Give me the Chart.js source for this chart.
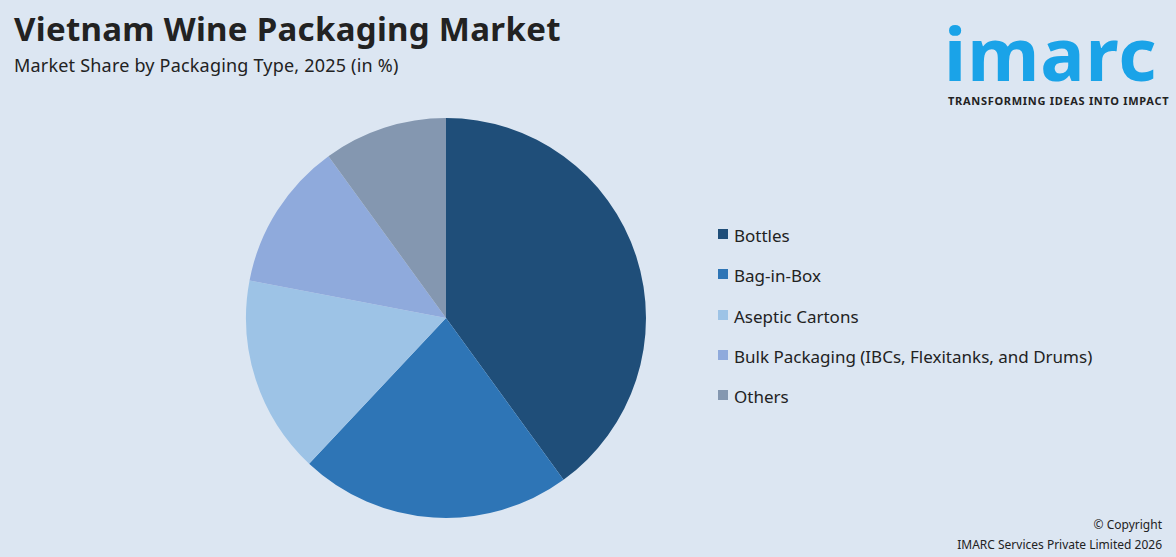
<!DOCTYPE html>
<html><head><meta charset="utf-8">
<script src="https://cdn.jsdelivr.net/npm/chart.js@4"></script>
<style>
body{margin:0;width:1176px;height:557px;background:#dce6f2;font-family:"Noto Sans",Roboto,sans-serif;position:relative;overflow:hidden}
#t{position:absolute;left:14px;top:6px;font-size:33px;font-weight:700;color:#222;letter-spacing:0.3px}
#s{position:absolute;left:14px;top:53px;font-size:18px;color:#222;letter-spacing:0.2px}
#c{position:absolute;left:244px;top:116px;width:404px;height:404px}
#lg{position:absolute;left:718px;top:224px;font-size:17px;color:#222}
#lg div{height:40.3px;display:flex;align-items:flex-start}
#lg span{display:inline-block;width:10px;height:10px;margin:5px 6px 0 0}
#logo{position:absolute;left:944px;top:16px;color:#1aa3e8;font-size:74px;font-weight:700;letter-spacing:1px;line-height:74px}
#tag{position:absolute;left:948px;top:93px;font-size:11px;font-weight:700;color:#222;letter-spacing:0.7px}
#cp{position:absolute;right:14px;top:515px;font-size:12px;color:#222;text-align:right;line-height:20px}
</style></head><body>
<div id="t">Vietnam Wine Packaging Market</div>
<div id="s">Market Share by Packaging Type, 2025 (in %)</div>
<div id="logo">imarc</div>
<div id="tag">TRANSFORMING IDEAS INTO IMPACT</div>
<div id="c"><canvas id="cv"></canvas></div>
<div id="lg"></div>
<div id="cp">© Copyright<br>IMARC Services Private Limited 2026</div>
<script>
const categories=["Bottles","Bag-in-Box","Aseptic Cartons","Bulk Packaging (IBCs, Flexitanks, and Drums)","Others"];
const shares=[40,22,16,12,10];
const colors=["#1f4e79","#2e75b6","#9dc3e6","#8faadc","#8497b0"];
document.getElementById('lg').innerHTML=categories.map((c,i)=>`<div><span style="background:${colors[i]}"></span>${c}</div>`).join('');
new Chart(document.getElementById('cv'),{type:'pie',
data:{labels:categories,datasets:[{data:shares,backgroundColor:colors,borderWidth:0}]},
options:{responsive:true,maintainAspectRatio:false,animation:false,layout:{padding:2},
plugins:{legend:{display:false},tooltip:{enabled:false}}}});
</script></body></html>
